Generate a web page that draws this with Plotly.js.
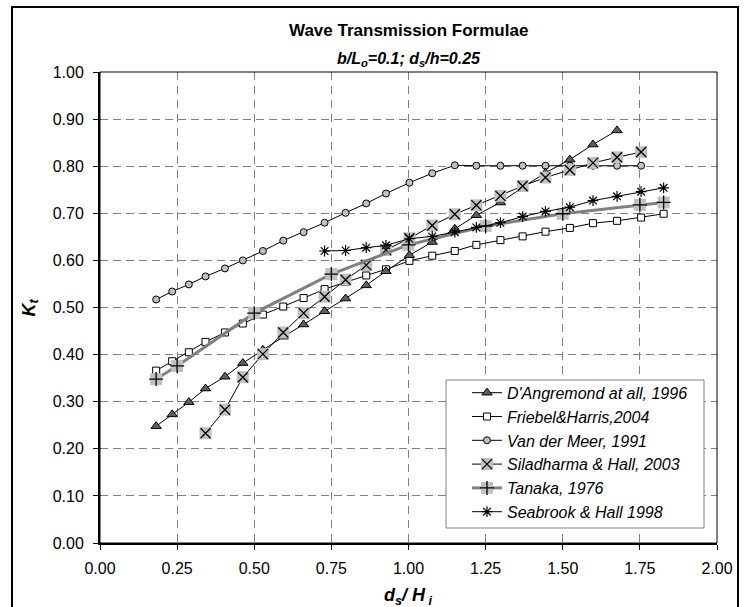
<!DOCTYPE html>
<html>
<head>
<meta charset="utf-8">
<script src="https://cdn.plot.ly/plotly-3.0.1.min.js"></script>
<style>html,body{margin:0;padding:0;background:#fff;}#chart{width:745px;height:607px;}</style>
</head>
<body>
<div id="chart"></div>
<script>
// ---- data ----
const dsHi = [0.182,0.234,0.288,0.342,0.405,0.463,0.528,0.594,0.660,0.728,0.796,0.863,0.927,1.003,1.077,1.150,1.220,1.298,1.370,1.444,1.523,1.598,1.676,1.754,1.827];

const xDAngremond = dsHi.slice(0, 23);
const yDAngremond = [0.248,0.273,0.299,0.328,0.353,0.382,0.410,0.438,0.464,0.492,0.519,0.547,0.577,0.611,0.639,0.667,0.696,0.723,0.755,0.786,0.814,0.846,0.876];

const xFriebel = dsHi.slice(0, 25);
const yFriebel = [0.366,0.386,0.405,0.427,0.447,0.466,0.485,0.502,0.520,0.539,0.554,0.568,0.581,0.599,0.610,0.620,0.633,0.643,0.651,0.661,0.669,0.679,0.684,0.691,0.699];

const xVanDerMeer = dsHi.slice(0, 24);
const yVanDerMeer = [0.517,0.534,0.549,0.566,0.583,0.600,0.620,0.642,0.660,0.680,0.701,0.721,0.742,0.765,0.785,0.802,0.801,0.801,0.801,0.801,0.801,0.801,0.801,0.801];

const xSiladharma = dsHi.slice(3, 24);
const ySiladharma = [0.233,0.283,0.352,0.401,0.447,0.488,0.523,0.559,0.590,0.622,0.647,0.674,0.698,0.717,0.737,0.758,0.776,0.792,0.807,0.819,0.830];

const xTanaka = [0.182,0.25,0.50,0.75,1.00,1.25,1.50,1.75,1.827];
const yTanaka = [0.348,0.376,0.488,0.571,0.633,0.673,0.699,0.718,0.723];

const xSeabrook = dsHi.slice(9, 25);
const ySeabrook = [0.620,0.621,0.627,0.632,0.646,0.651,0.660,0.670,0.680,0.693,0.704,0.713,0.727,0.736,0.746,0.754];

const seriesNames = ["D'Angremond at all, 1996","Friebel&Harris,2004","Van der Meer, 1991","Siladharma & Hall, 2003","Tanaka, 1976","Seabrook & Hall 1998"];
const xTickVals = [0,0.25,0.5,0.75,1,1.25,1.5,1.75,2];
const yTickVals = [0,0.1,0.2,0.3,0.4,0.5,0.6,0.7,0.8,0.9,1.0];

// ---- styling ----
const FONT = 'Liberation Sans, Arial, sans-serif';
const BOX = '#c0c0c0';
const traces = [
  {x:xVanDerMeer, y:yVanDerMeer, name:seriesNames[2], legendrank:3, mode:'lines+markers',
   line:{color:'#000',width:1}, marker:{symbol:'circle',size:7,color:'#c0c0c0',line:{color:'#000',width:1}}},
  {x:xFriebel, y:yFriebel, name:seriesNames[1], legendrank:2, mode:'lines+markers',
   line:{color:'#000',width:1}, marker:{symbol:'square',size:7,color:'#fff',line:{color:'#000',width:1}}},
  {x:xDAngremond, y:yDAngremond, name:seriesNames[0], legendrank:1, mode:'lines+markers',
   line:{color:'#000',width:1}, marker:{symbol:'triangle-up',size:9,color:'#5f5f5f',line:{color:'#000',width:1}}},
  // Siladharma: line, grey boxes, black X
  {x:xSiladharma, y:ySiladharma, showlegend:false, hoverinfo:'skip', mode:'lines',
   line:{color:'#000',width:1}},
  {x:xSiladharma, y:ySiladharma, showlegend:false, hoverinfo:'skip', mode:'markers',
   marker:{symbol:'square',size:12,color:BOX,line:{width:0}}},
  {x:xSiladharma, y:ySiladharma, name:seriesNames[3], legendrank:4, mode:'markers',
   marker:{symbol:'x-thin-open',size:10,color:'#000',line:{color:'#000',width:1.3}}},
  // Tanaka: thick grey line, grey boxes, black +
  {x:xTanaka, y:yTanaka, showlegend:false, hoverinfo:'skip', mode:'lines',
   line:{color:'#808080',width:3}},
  {x:xTanaka, y:yTanaka, showlegend:false, hoverinfo:'skip', mode:'markers',
   marker:{symbol:'square',size:12,color:BOX,line:{width:0}}},
  {x:xTanaka, y:yTanaka, name:seriesNames[4], legendrank:5, mode:'markers',
   marker:{symbol:'cross-thin-open',size:10,color:'#000',line:{color:'#000',width:1.3}}},
  {x:xSeabrook, y:ySeabrook, name:seriesNames[5], legendrank:6, mode:'lines+markers',
   line:{color:'#000',width:1}, marker:{symbol:'asterisk-open',size:9,color:'#000',line:{color:'#000',width:1.2}}}
];

// plot area in pixels
const L=100, R=717, T=72, B=543, W=745, H=607;
const px = v => (v - L)/(R - L);
const py = v => (B - v)/(B - T);

// legend geometry (pixels)
const LEG = {left:446, right:704, top:380, bottom:528, itemX:467, firstRow:392.7, rowH:23.8};
const rowY = k => LEG.firstRow + LEG.rowH*k;
const symX = LEG.itemX + 20;

const legendShapes = [
  {type:'rect', xref:'paper', yref:'paper', x0:px(LEG.left), x1:px(LEG.right), y0:py(LEG.bottom), y1:py(LEG.top),
   line:{color:'#808080', width:1}, fillcolor:'#fff', layer:'above'},
  {type:'line', xref:'paper', yref:'paper', x0:px(LEG.itemX+5), x1:px(LEG.itemX+35), y0:py(rowY(3)), y1:py(rowY(3)),
   line:{color:'#000', width:1}, layer:'above'},
  {type:'line', xref:'paper', yref:'paper', x0:px(LEG.itemX+5), x1:px(LEG.itemX+35), y0:py(rowY(4)), y1:py(rowY(4)),
   line:{color:'#808080', width:3}, layer:'above'},
  {type:'rect', xref:'paper', yref:'paper', x0:px(symX-6), x1:px(symX+6), y0:py(rowY(3)+6), y1:py(rowY(3)-6),
   line:{width:0}, fillcolor:BOX, layer:'above'},
  {type:'rect', xref:'paper', yref:'paper', x0:px(symX-6), x1:px(symX+6), y0:py(rowY(4)+6), y1:py(rowY(4)-6),
   line:{width:0}, fillcolor:BOX, layer:'above'}
];

const layout = {
  width:W, height:H,
  margin:{l:L, r:W-R, t:T, b:H-B, pad:0},
  paper_bgcolor:'#fff', plot_bgcolor:'#fff',
  font:{family:FONT, color:'#000', size:16},
  showlegend:true,
  legend:{x:px(LEG.itemX), y:py(LEG.firstRow - 16.9), xanchor:'left', yanchor:'top',
    bgcolor:'rgba(0,0,0,0)', borderwidth:0,
    font:{family:FONT, size:16, style:'italic', color:'#000'},
    traceorder:'normal', tracegroupgap:0, itemwidth:30},
  xaxis:{range:[0,2], tickvals:xTickVals, tickformat:'.2f', showgrid:true,
    gridcolor:'#808080', gridwidth:1, griddash:'8px,6px', zeroline:false,
    showline:true, linecolor:'#000', linewidth:2, ticks:'outside', ticklen:5, tickcolor:'#000',
    tickfont:{family:FONT,size:16}, ticklabelstandoff:5, fixedrange:true},
  yaxis:{range:[0,1], tickvals:yTickVals, tickformat:'.2f', showgrid:true,
    gridcolor:'#808080', gridwidth:1, griddash:'8px,5px', zeroline:false,
    showline:true, linecolor:'#000', linewidth:2, ticks:'outside', ticklen:5, tickcolor:'#000',
    tickfont:{family:FONT,size:16}, ticklabelstandoff:6, fixedrange:true},
  shapes:[
    {type:'rect', xref:'paper', yref:'paper', x0:0, x1:1, y0:0, y1:1, line:{color:'#000', width:1}},
    {type:'rect', xref:'paper', yref:'paper', x0:px(12), x1:px(738), y0:py(640), y1:py(7), line:{color:'#000', width:2}, layer:'below'}
  ].concat(legendShapes),
  annotations:[
    {text:'<b>Wave Transmission Formulae</b>', xref:'paper', yref:'paper', x:0.5, y:py(30),
     xanchor:'center', yanchor:'middle', showarrow:false, font:{family:FONT,size:17}},
    {text:'<b><i>b/L<sub>o</sub>=0.1; d<sub>s</sub>/h=0.25</i></b>', xref:'paper', yref:'paper', x:0.5, y:py(59),
     xanchor:'center', yanchor:'middle', showarrow:false, font:{family:FONT,size:16}},
    {text:'<b><i>d<sub>s</sub>/ H<sub> i</sub></i></b>', xref:'paper', yref:'paper', x:0.5, y:py(596),
     xanchor:'center', yanchor:'middle', showarrow:false, font:{family:FONT,size:18}},
    {text:'<b><i>K<sub>t</sub></i></b>', xref:'paper', yref:'paper', x:px(30), y:0.5, textangle:-90,
     xanchor:'center', yanchor:'middle', showarrow:false, font:{family:FONT,size:18}}
  ]
};

Plotly.newPlot('chart', traces, layout, {staticPlot:true, displayModeBar:false});
</script>
</body>
</html>
